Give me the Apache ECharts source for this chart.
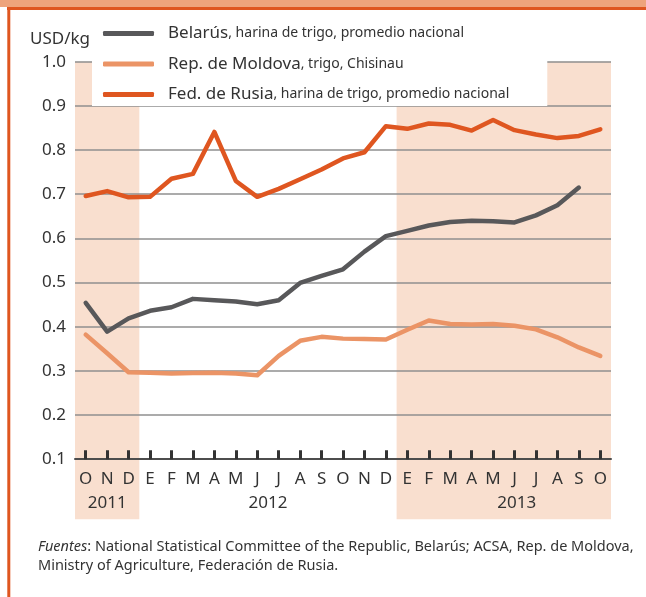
<!DOCTYPE html>
<html style="height: 100%">
<head>
    <meta charset="utf-8">
</head>
<body style="height: 100%; margin: 0">
<div id="container" style="width: 646px; height: 597px"></div>
<script type="text/javascript" src="https://cdn.jsdelivr.net/npm/echarts@6/dist/echarts.min.js"></script>
<script type="text/javascript">
    // meses de oct 2011 a oct 2013
    var periods = ['2011-10', '2011-11', '2011-12',
        '2012-01', '2012-02', '2012-03', '2012-04', '2012-05', '2012-06',
        '2012-07', '2012-08', '2012-09', '2012-10', '2012-11', '2012-12',
        '2013-01', '2013-02', '2013-03', '2013-04', '2013-05', '2013-06',
        '2013-07', '2013-08', '2013-09', '2013-10'];
    var months = ['O', 'N', 'D', 'E', 'F', 'M', 'A', 'M', 'J', 'J', 'A', 'S', 'O', 'N', 'D',
        'E', 'F', 'M', 'A', 'M', 'J', 'J', 'A', 'S', 'O'];
    var years = ['2011', '2012', '2013'];

    var belarus = [0.454, 0.389, 0.419, 0.436, 0.444, 0.463, 0.460, 0.457, 0.451, 0.460,
        0.499, 0.515, 0.530, 0.570, 0.605, 0.617, 0.629, 0.637, 0.640, 0.639,
        0.636, 0.652, 0.675, 0.715, null];
    var moldova = [0.382, 0.340, 0.297, 0.296, 0.294, 0.295, 0.296, 0.294, 0.290, 0.334,
        0.368, 0.377, 0.373, 0.372, 0.371, 0.393, 0.414, 0.406, 0.405, 0.406,
        0.402, 0.394, 0.376, 0.353, 0.334];
    var rusia = [0.696, 0.707, 0.693, 0.694, 0.735, 0.746, 0.841, 0.730, 0.694, 0.712,
        0.734, 0.756, 0.781, 0.795, 0.854, 0.848, 0.860, 0.857, 0.844, 0.868,
        0.845, 0.835, 0.827, 0.832, 0.847];

    var names = ['Belarús', 'Rep. de Moldova', 'Fed. de Rusia'];
    var notes = [', harina de trigo, promedio nacional', ', trigo, Chisinau', ', harina de trigo, promedio nacional'];
    var colors = ['#58585a', '#eb9466', '#df5620'];

    // periodos sombreados (indices de mes)
    var shades = [[0, 2], [15, 24]];
    var yearPos = [1, 8.5, 20.1];

    var FONT = 'Noto Sans';
    var TXT = '#333333';

    var dom = document.getElementById("container");
    var myChart = echarts.init(dom);

    function makeSeries(i, data) {
        return {
            name: names[i],
            type: 'line',
            data: data,
            symbol: 'none',
            color: colors[i],
            itemStyle: {color: colors[i]},
            lineStyle: {color: colors[i], width: 4.5, cap: 'round', join: 'round'},
            z: 3 + i
        };
    }

    var option = {
        animation: false,
        textStyle: {fontFamily: FONT},
        grid: {left: 75, right: 35, top: 61.7, bottom: 137.8},
        legend: {
            orient: 'vertical',
            left: 92,
            top: 19,
            padding: [6, 38, 3, 11],
            itemGap: 13.5,
            itemWidth: 51,
            itemHeight: 5,
            icon: 'roundRect',
            backgroundColor: '#ffffff',
            data: names,
            formatter: function (name) {
                var i = names.indexOf(name);
                return '{a|' + name + '}{b|' + notes[i] + '}';
            },
            textStyle: {
                color: TXT,
                rich: {
                    a: {fontSize: 17, fontFamily: FONT, lineHeight: 20, padding: [0, 0, 0, 9], color: TXT},
                    b: {fontSize: 14, fontFamily: FONT, lineHeight: 20, color: TXT}
                }
            }
        },
        xAxis: {
            type: 'category',
            data: periods,
            boundaryGap: true,
            axisLine: {show: true, lineStyle: {color: '#4d4d4d', width: 2}},
            axisTick: {show: true, inside: true, length: 9, alignWithLabel: true, interval: 0, lineStyle: {color: '#333333', width: 3}},
            axisLabel: {
                interval: 0,
                margin: 11,
                color: TXT,
                fontSize: 17,
                formatter: function (v, i) { return months[i]; }
            }
        },
        yAxis: {
            type: 'value',
            min: 0.1,
            max: 1.0,
            interval: 0.1,
            name: 'USD/kg',
            nameGap: 14,
            nameTextStyle: {color: TXT, fontSize: 17, align: 'right', padding: [0, -15, 0, 0]},
            axisLine: {show: false},
            axisTick: {show: false},
            axisLabel: {
                color: TXT,
                fontSize: 17,
                margin: 9,
                formatter: function (v) { return v.toFixed(1); }
            },
            splitLine: {lineStyle: {color: '#8f8f8f', width: 1.5}}
        },
        series: [makeSeries(0, belarus), makeSeries(1, moldova), makeSeries(2, rusia)]
    };

    myChart.setOption(option);

    // sombreado, años, marco y fuente
    var x0 = myChart.convertToPixel({xAxisIndex: 0}, 0);
    var step = myChart.convertToPixel({xAxisIndex: 0}, 1) - x0;
    var yTop = myChart.convertToPixel({yAxisIndex: 0}, 1.0);
    var yBase = myChart.convertToPixel({yAxisIndex: 0}, 0.1);
    function edge(k) { return x0 + step * (k - 0.5); }

    var graphics = [];
    shades.forEach(function (s) {
        graphics.push({
            type: 'rect', z: -10, silent: true,
            shape: {x: edge(s[0]), y: yTop, width: edge(s[1] + 1) - edge(s[0]), height: yBase + 60 - yTop},
            style: {fill: '#f9dfcf'}
        });
    });
    years.forEach(function (y, i) {
        graphics.push({
            type: 'text', x: x0 + step * yearPos[i], y: yBase + 44,
            style: {text: y, fill: TXT, fontSize: 17, fontFamily: FONT, align: 'center', verticalAlign: 'middle'}
        });
    });
    graphics.push({type: 'rect', z: 50, shape: {x: 0, y: 0, width: 646, height: 7}, style: {fill: '#eea47c'}});
    graphics.push({type: 'rect', z: 50, shape: {x: 7, y: 7, width: 639, height: 3}, style: {fill: '#df5620'}});
    graphics.push({type: 'rect', z: 50, shape: {x: 7.3, y: 7, width: 3, height: 590}, style: {fill: '#df5620'}});
    graphics.push({
        type: 'text', x: 38, y: 537,
        style: {
            text: '{i|Fuentes}: National Statistical Committee of the Republic, Belarús; ACSA, Rep. de Moldova,\nMinistry of Agriculture, Federación de Rusia.',
            fill: TXT, fontSize: 14.5, fontFamily: FONT, lineHeight: 19,
            rich: {i: {fontStyle: 'italic', fontSize: 14.5, fontFamily: FONT, lineHeight: 19, fill: TXT}}
        }
    });

    myChart.setOption({graphic: {elements: graphics}});
</script>
</body>
</html>
